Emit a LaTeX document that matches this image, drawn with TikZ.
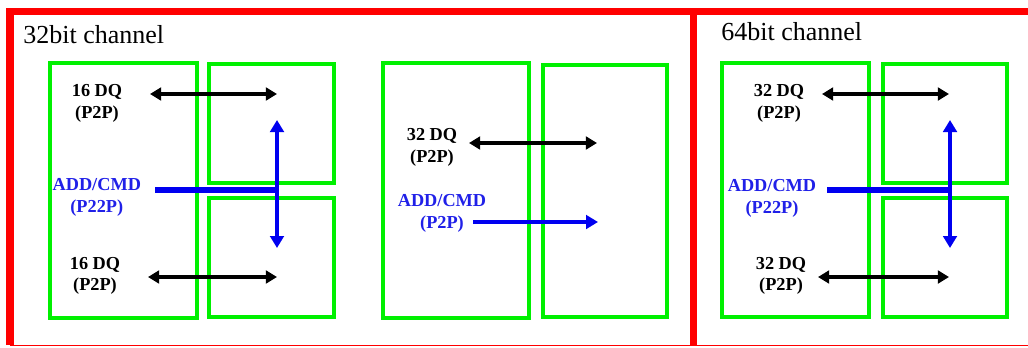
\documentclass[tikz,border=0pt]{standalone}
\usepackage{fontspec}
\setmainfont{Liberation Serif}
\usetikzlibrary{arrows.meta}
\definecolor{CHRed}{HTML}{FF0000}
\definecolor{CHGreen}{HTML}{00F000}
\definecolor{CHBlue}{HTML}{0000F0}
\definecolor{CHText}{HTML}{2020E8}

\begin{document}
\begin{tikzpicture}[x=1cm,y=1cm,
  frame/.style={draw=CHRed,line width=5pt,line join=miter},
  chip/.style={draw=CHGreen,line width=2.4pt},
  dq/.style={line width=2.8pt,{Triangle[length=2.8mm,width=3.2mm]}-{Triangle[length=2.8mm,width=3.2mm]}},
  cmd/.style={draw=CHBlue,line width=3.8pt},
  cmdtip/.style={draw=CHBlue,line width=3.2pt,-{Triangle[length=3mm,width=3.4mm]}},
  cmdboth/.style={draw=CHBlue,line width=3pt,{Triangle[length=3mm,width=3.4mm]}-{Triangle[length=3mm,width=3.4mm]}},
  sig/.style={align=center,font=\fontsize{13}{15.5}\selectfont\bfseries,inner sep=0pt},
  title/.style={anchor=west,font=\fontsize{18.5}{21}\selectfont,inner sep=0pt}]
\path[use as bounding box] (0,0) rectangle (25.70,8.675);
% channel frames
\draw[frame] (0.25,0.05) -- (0.25,8.39) -- (25.80,8.39);
\draw[frame] (17.34,8.39) -- (17.34,0.05);
\draw[CHRed,line width=1pt] (0.25,0.04) -- (25.80,0.04);
\node[title] (t32) at (0.575,7.82) {32bit channel};
\node[title] (t64) at (18.025,7.88) {64bit channel};
% 32bit channel, two x16 devices
\draw[chip] (1.25,0.725) rectangle (4.925,7.10);
\draw[chip] (5.225,4.10) rectangle (8.35,7.075);
\draw[chip] (5.225,0.75) rectangle (8.35,3.725);
\node[sig] (la1) at (2.425,6.10) {16 DQ\\(P2P)};
\node[sig,text=CHText] (lc1) at (2.42,3.75) {ADD/CMD\\(P22P)};
\node[sig] (lb1) at (2.375,1.78) {16 DQ\\(P2P)};
\coordinate (a1s) at (3.75,6.325);
\coordinate (a1e) at (6.925,6.325);
\coordinate (b1s) at (3.70,1.75);
\coordinate (b1e) at (6.925,1.75);
\coordinate (c1s) at (3.875,3.925);
\coordinate (c1j) at (6.925,3.925);
\coordinate (c1t) at (6.925,5.675);
\coordinate (c1b) at (6.925,2.475);
\draw[dq] (a1s) -- (a1e);
\draw[dq] (b1s) -- (b1e);
\draw[cmd] (c1s) -- (c1j);
\draw[cmdboth] (c1b) -- (c1t);
% 32bit channel, one x32 device
\draw[chip] (9.575,0.725) rectangle (13.225,7.10);
\draw[chip] (13.575,0.75) rectangle (16.675,7.05);
\node[sig] (la2) at (10.80,5.00) {32 DQ\\(P2P)};
\node[sig,text=CHText] (lc2) at (11.05,3.35) {ADD/CMD\\(P2P)};
\coordinate (a2s) at (11.725,5.10);
\coordinate (a2e) at (14.925,5.10);
\coordinate (c2s) at (11.825,3.125);
\coordinate (c2e) at (14.95,3.125);
\draw[dq] (a2s) -- (a2e);
\draw[cmdtip] (c2s) -- (c2e);
% 64bit channel
\draw[chip] (18.05,0.75) rectangle (21.725,7.10);
\draw[chip] (22.075,4.10) rectangle (25.175,7.075);
\draw[chip] (22.075,0.75) rectangle (25.175,3.725);
\node[sig] (la3) at (19.475,6.10) {32 DQ\\(P2P)};
\node[sig,text=CHText] (lc3) at (19.30,3.725) {ADD/CMD\\(P22P)};
\node[sig] (lb3) at (19.525,1.78) {32 DQ\\(P2P)};
\coordinate (a3s) at (20.55,6.325);
\coordinate (a3e) at (23.725,6.325);
\coordinate (b3s) at (20.45,1.75);
\coordinate (b3e) at (23.725,1.75);
\coordinate (c3s) at (20.675,3.925);
\coordinate (c3j) at (23.75,3.925);
\coordinate (c3t) at (23.75,5.675);
\coordinate (c3b) at (23.75,2.475);
\draw[dq] (a3s) -- (a3e);
\draw[dq] (b3s) -- (b3e);
\draw[cmd] (c3s) -- (c3j);
\draw[cmdboth] (c3b) -- (c3t);
\end{tikzpicture}
\end{document}
